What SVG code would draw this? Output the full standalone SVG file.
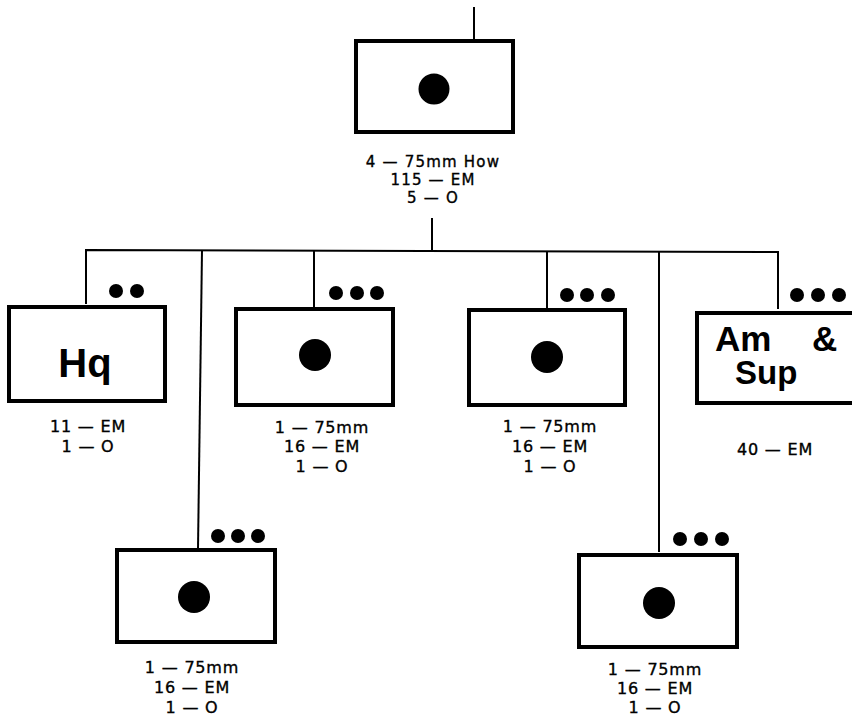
<svg xmlns="http://www.w3.org/2000/svg" width="852" height="722" viewBox="0 0 852 722">
<style>
.box{fill:#fff;stroke:#000;stroke-width:4}
.con{fill:none;stroke:#000;stroke-width:2}
.lbl{font-family:"DejaVu Sans",sans-serif;font-size:16px;letter-spacing:0.8px;text-anchor:middle;fill:#000;stroke:#000;stroke-width:0.35}
.sm{font-size:15px;letter-spacing:1.2px}
.big{font-family:"Liberation Sans",Arial,sans-serif;font-weight:bold;fill:#000}
</style>
<rect width="852" height="722" fill="#fff"/>
<g id="connectors">
<line class="con" x1="474" y1="7" x2="474" y2="41" stroke-width="3"/>
<line class="con" x1="432" y1="218" x2="432" y2="251"/>
<polyline class="con" points="86,304 86,250 778,252 778,309"/>
<line class="con" x1="202" y1="250" x2="198" y2="549"/>
<line class="con" x1="314" y1="251" x2="314" y2="308"/>
<line class="con" x1="547" y1="251" x2="547" y2="309"/>
<line class="con" x1="659" y1="252" x2="659" y2="552"/>
</g>
<g id="top">
<rect class="box" x="356" y="41" width="157" height="91"/>
<circle cx="434" cy="89" r="15.5"/>
<text class="lbl sm" x="433" y="167">4 — 75mm How</text>
<text class="lbl sm" x="433" y="185">115 — EM</text>
<text class="lbl sm" x="433" y="203">5 — O</text>
</g>
<g id="hq">
<rect class="box" x="9" y="307" width="156" height="94"/>
<circle cx="116" cy="291" r="7"/><circle cx="137" cy="291" r="7"/>
<text class="big" x="85" y="377" font-size="40" text-anchor="middle">Hq</text>
<text class="lbl" x="88" y="432">11 — EM</text>
<text class="lbl" x="88" y="452">1 — O</text>
</g>
<g id="btry1">
<rect class="box" x="236" y="309" width="157" height="96"/>
<circle cx="336" cy="293" r="7"/><circle cx="357" cy="293" r="7"/><circle cx="377" cy="293" r="7"/>
<circle cx="315" cy="355" r="16"/>
<text class="lbl" x="322" y="433">1 — 75mm</text>
<text class="lbl" x="322" y="452">16 — EM</text>
<text class="lbl" x="322" y="472">1 — O</text>
</g>
<g id="btry2">
<rect class="box" x="469" y="310" width="156" height="95"/>
<circle cx="567" cy="295" r="7"/><circle cx="587" cy="295" r="7"/><circle cx="608" cy="295" r="7"/>
<circle cx="547" cy="357" r="16"/>
<text class="lbl" x="550" y="432">1 — 75mm</text>
<text class="lbl" x="550" y="452">16 — EM</text>
<text class="lbl" x="550" y="472">1 — O</text>
</g>
<g id="amsup">
<rect class="box" x="697" y="313" width="170" height="90"/>
<circle cx="797" cy="295" r="7"/><circle cx="818" cy="295" r="7"/><circle cx="839" cy="295" r="7"/>
<text class="big" font-size="35" x="715" y="351">Am</text>
<text class="big" font-size="35" x="812" y="351">&amp;</text>
<text class="big" font-size="33" x="735" y="384">Sup</text>
<text class="lbl" x="775" y="455">40 — EM</text>
</g>
<g id="btry3">
<rect class="box" x="117" y="550" width="158" height="92"/>
<circle cx="218" cy="536" r="7"/><circle cx="238" cy="536" r="7"/><circle cx="258" cy="536" r="7"/>
<circle cx="194" cy="597" r="16"/>
<text class="lbl" x="192" y="673">1 — 75mm</text>
<text class="lbl" x="192" y="693">16 — EM</text>
<text class="lbl" x="192" y="713">1 — O</text>
</g>
<g id="btry4">
<rect class="box" x="579" y="555" width="158" height="92"/>
<circle cx="680" cy="539" r="7"/><circle cx="701" cy="539" r="7"/><circle cx="722" cy="539" r="7"/>
<circle cx="659" cy="603" r="16"/>
<text class="lbl" x="655" y="675">1 — 75mm</text>
<text class="lbl" x="655" y="694">16 — EM</text>
<text class="lbl" x="655" y="713">1 — O</text>
</g>
</svg>
